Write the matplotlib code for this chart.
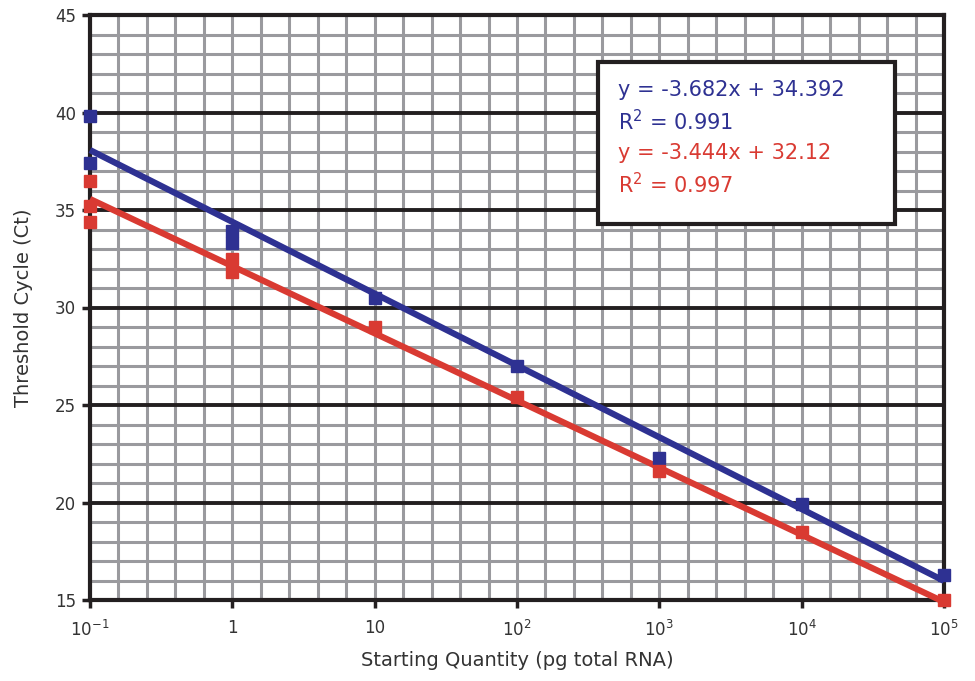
import numpy as np
import matplotlib
matplotlib.use("Agg")
import matplotlib.pyplot as plt
from matplotlib.patches import Rectangle
from matplotlib.ticker import FixedLocator, NullFormatter

# ---- data ----
quantities = [0.1, 1, 10, 100, 1000, 10000, 100000]
blue_x = [0.1, 0.1, 1, 1, 10, 100, 1000, 10000, 100000]
blue_y = [39.8, 37.4, 33.9, 33.3, 30.5, 27.0, 22.3, 19.9, 16.3]
red_x = [0.1, 0.1, 0.1, 1, 1, 10, 100, 1000, 10000, 100000]
red_y = [36.5, 35.2, 34.4, 32.5, 31.8, 29.0, 25.4, 21.6, 18.5, 15.0]
blue_slope, blue_intercept, blue_r2 = -3.682, 34.392, 0.991
red_slope, red_intercept, red_r2 = -3.444, 32.12, 0.997
x_tick_labels = [r"$10^{-1}$", "1", "10", r"$10^{2}$", r"$10^{3}$", r"$10^{4}$", r"$10^{5}$"]
y_ticks = [15, 20, 25, 30, 35, 40, 45]

BLUE = "#2E3192"
RED = "#D93A32"
GRAY = "#9A9A9E"
BLACK = "#231F20"

fig = plt.figure(figsize=(9.75, 6.81), dpi=100)
ax = fig.add_axes([90/975, 1-600/681, (944-90)/975, (600-15)/681])

ax.set_xscale("log")
ax.set_xlim(0.1, 1e5)
ax.set_ylim(15, 45)

# grid
minor_x = [10**(k + 0.2*j) for k in range(-1, 5) for j in range(1, 5)]
ax.xaxis.set_major_locator(FixedLocator(quantities))
ax.xaxis.set_minor_locator(FixedLocator(minor_x))
ax.xaxis.set_minor_formatter(NullFormatter())
ax.set_xticklabels(x_tick_labels)
ax.yaxis.set_major_locator(FixedLocator(y_ticks))
ax.yaxis.set_minor_locator(FixedLocator([v for v in range(15, 46) if v % 5]))
ax.grid(which="minor", color=GRAY, lw=2.2, zorder=0)
ax.yaxis.grid(which="major", color=BLACK, lw=2.8, zorder=0.5)
ax.xaxis.grid(which="major", color=GRAY, lw=2.2, zorder=0)
ax.set_axisbelow(True)

for s in ax.spines.values():
    s.set_color(BLACK)
    s.set_linewidth(3)

ax.tick_params(which="major", length=6, width=2.5, color=BLACK, direction="out",
               labelsize=12, labelcolor="#333333", pad=4)
ax.tick_params(which="minor", length=0)
ax.tick_params(axis="x", pad=8)

# fit lines
xl = np.array([0.1, 1e5])
ax.plot(xl, blue_slope*np.log10(xl) + blue_intercept, color=BLUE, lw=4.5,
        solid_capstyle="butt", zorder=3, clip_on=False)
ax.plot(xl, red_slope*np.log10(xl) + red_intercept, color=RED, lw=4.5,
        solid_capstyle="butt", zorder=3, clip_on=False)
# data points
ax.plot(blue_x, blue_y, ls="none", marker="s", ms=8, color=BLUE, zorder=4, clip_on=False)
ax.plot(red_x, red_y, ls="none", marker="s", ms=8, color=RED, zorder=4, clip_on=False)

ax.set_xlabel("Starting Quantity (pg total RNA)", fontsize=14, color="#333333", labelpad=8)
ax.set_ylabel("Threshold Cycle (Ct)", fontsize=14, color="#333333", labelpad=16)

# equation box
fig.patches.append(Rectangle((598/975, 1-224/681), (895-598)/975, (224-62)/681,
                             transform=fig.transFigure, facecolor="white",
                             edgecolor=BLACK, lw=3, zorder=10))
tx = 618/975
lines = [
    (f"y = {blue_slope}x + {blue_intercept}", BLUE, 90),
    (f"R$^2$ = {blue_r2}", BLUE, 122),
    (f"y = {red_slope}x + {red_intercept}", RED, 153),
    (f"R$^2$ = {red_r2}", RED, 185),
]
for txt, col, ypx in lines:
    fig.text(tx, 1-ypx/681, txt, color=col, fontsize=15, va="center", ha="left", zorder=11)

fig.savefig("out.png", dpi=100)
